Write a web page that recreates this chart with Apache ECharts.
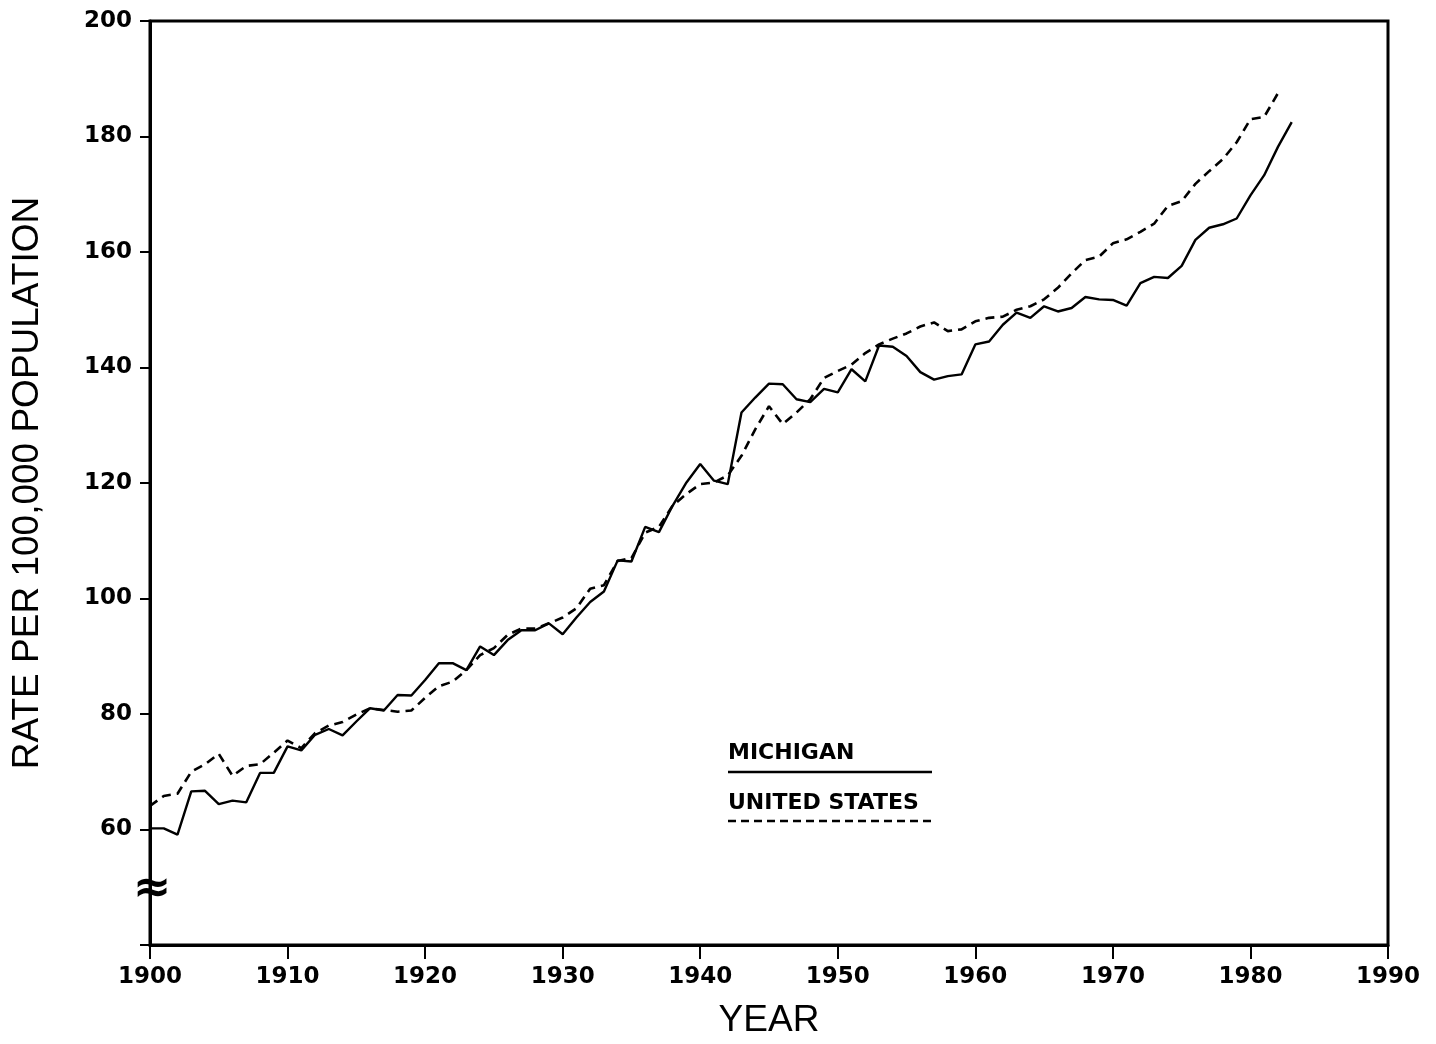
<!DOCTYPE html>
<html>
<head>
<meta charset="utf-8">
<script src="https://cdn.jsdelivr.net/npm/echarts@6/dist/echarts.min.js"></script>
<style>
html,body{margin:0;padding:0;background:#fff;}
#chart{width:1436px;height:1044px;}
</style>
</head>
<body>
<div id="chart"></div>
<script>
// Years covered
const firstYear = 1900;
const xTicks = [1900, 1910, 1920, 1930, 1940, 1950, 1960, 1970, 1980, 1990];
const yTicks = [60, 80, 100, 120, 140, 160, 180, 200];

// Michigan rate per 100,000 (1900-1983)
const michigan = [
  60.2, 60.2, 59.1, 66.6, 66.7, 64.4, 65.0, 64.7, 69.8, 69.8,
  74.4, 73.7, 76.4, 77.4, 76.3, 78.7, 81.0, 80.6, 83.3, 83.2,
  85.9, 88.8, 88.8, 87.6, 91.7, 90.2, 92.8, 94.5, 94.5, 95.7,
  93.8, 96.7, 99.4, 101.2, 106.6, 106.4, 112.4, 111.5, 116.1, 120.1,
  123.3, 120.4, 119.8, 132.2, 134.8, 137.2, 137.1, 134.5, 134.0, 136.3,
  135.7, 139.7, 137.6, 143.8, 143.6, 142.0, 139.2, 137.9, 138.5, 138.8,
  144.0, 144.5, 147.4, 149.5, 148.6, 150.6, 149.7, 150.3, 152.2, 151.8,
  151.7, 150.7, 154.6, 155.7, 155.5, 157.6, 162.1, 164.2, 164.8, 165.8,
  169.8, 173.3, 178.2, 182.5
];

// United States rate per 100,000 (1900-1982)
const unitedStates = [
  64.1, 65.8, 66.2, 70.0, 71.3, 73.1, 69.3, 71.0, 71.3, 73.3,
  75.4, 74.1, 76.7, 78.0, 78.6, 79.9, 81.0, 80.7, 80.4, 80.6,
  82.8, 84.8, 85.6, 87.6, 90.2, 91.4, 93.7, 94.8, 94.8, 95.7,
  96.7, 98.3, 101.7, 102.3, 106.5, 107.0, 111.4, 112.4, 116.1, 118.1,
  119.8, 120.1, 121.3, 124.7, 129.3, 133.3, 130.2, 132.2, 134.5, 138.2,
  139.4, 140.5, 142.5, 144.0, 145.0, 145.9, 147.1, 147.8, 146.3, 146.6,
  148.0, 148.6, 148.8, 150.0, 150.6, 151.8, 153.8, 156.3, 158.6, 159.2,
  161.5, 162.2, 163.5, 164.9, 168.0, 168.8, 171.8, 174.0, 176.1, 179.0,
  183.0, 183.4, 187.5
];

const seriesNames = ['MICHIGAN', 'UNITED STATES'];

const toPairs = arr => arr.map((v, i) => [firstYear + i, v]);

const chart = echarts.init(document.getElementById('chart'), null, {renderer: 'canvas'});

const tickFont = {fontFamily: 'DejaVu Sans', fontWeight: 'bold', fontSize: 23, color: '#000'};
const nameFont = {fontFamily: 'Liberation Sans', fontWeight: 'normal', fontSize: 37, color: '#000'};

chart.setOption({
  backgroundColor: '#fff',
  animation: false,
  grid: {
    left: 150, right: 48, top: 21, bottom: 96,
    show: true, borderColor: '#000', borderWidth: 3, backgroundColor: 'transparent'
  },
  xAxis: {
    type: 'value',
    min: xTicks[0], max: xTicks[xTicks.length - 1], interval: 10,
    name: 'YEAR', nameLocation: 'middle', nameGap: 57,
    nameTextStyle: nameFont,
    axisLine: {show: true, lineStyle: {color: '#000', width: 3}},
    axisTick: {show: true, length: 14, lineStyle: {color: '#000', width: 2}},
    axisLabel: Object.assign({margin: 21, formatter: v => String(v)}, tickFont),
    splitLine: {show: false}
  },
  yAxis: {
    type: 'value',
    min: 40, max: 200, interval: 20,
    name: 'RATE PER 100,000 POPULATION', nameLocation: 'middle', nameGap: 104,
    nameTextStyle: nameFont,
    axisLine: {show: true, lineStyle: {color: '#000', width: 3}},
    axisTick: {show: true, length: 10, lineStyle: {color: '#000', width: 2}},
    axisLabel: Object.assign({margin: 18, formatter: v => (yTicks.indexOf(v) >= 0 ? String(v) : '')}, tickFont),
    splitLine: {show: false}
  },
  series: [
    {
      name: seriesNames[0], type: 'line', data: toPairs(michigan),
      showSymbol: false, symbol: 'none',
      lineStyle: {color: '#000', width: 2.4, type: 'solid'}
    },
    {
      name: seriesNames[1], type: 'line', data: toPairs(unitedStates),
      showSymbol: false, symbol: 'none',
      lineStyle: {color: '#000', width: 2.6, type: [9, 6]}
    }
  ]
});

// Break mark on the y axis and the in-plot legend
const brk = chart.convertToPixel({gridIndex: 0}, [1900, 49.5]);
chart.setOption({
  graphic: [
    {type: 'text', x: brk[0] + 2, y: brk[1], style: {text: '\u2248', font: 'bold 46px DejaVu Sans', fill: '#000', align: 'center', verticalAlign: 'middle'}},
    {type: 'text', x: 728, y: 753, style: {text: seriesNames[0], font: 'bold 22px DejaVu Sans', fill: '#000', align: 'left', verticalAlign: 'middle'}},
    {type: 'line', shape: {x1: 728, y1: 772, x2: 932, y2: 772}, style: {stroke: '#000', lineWidth: 2.5}},
    {type: 'text', x: 728, y: 803, style: {text: seriesNames[1], font: 'bold 22px DejaVu Sans', fill: '#000', align: 'left', verticalAlign: 'middle'}},
    {type: 'line', shape: {x1: 728, y1: 821, x2: 932, y2: 821}, style: {stroke: '#000', lineWidth: 2.5, lineDash: [8, 5]}}
  ]
});
</script>
</body>
</html>
